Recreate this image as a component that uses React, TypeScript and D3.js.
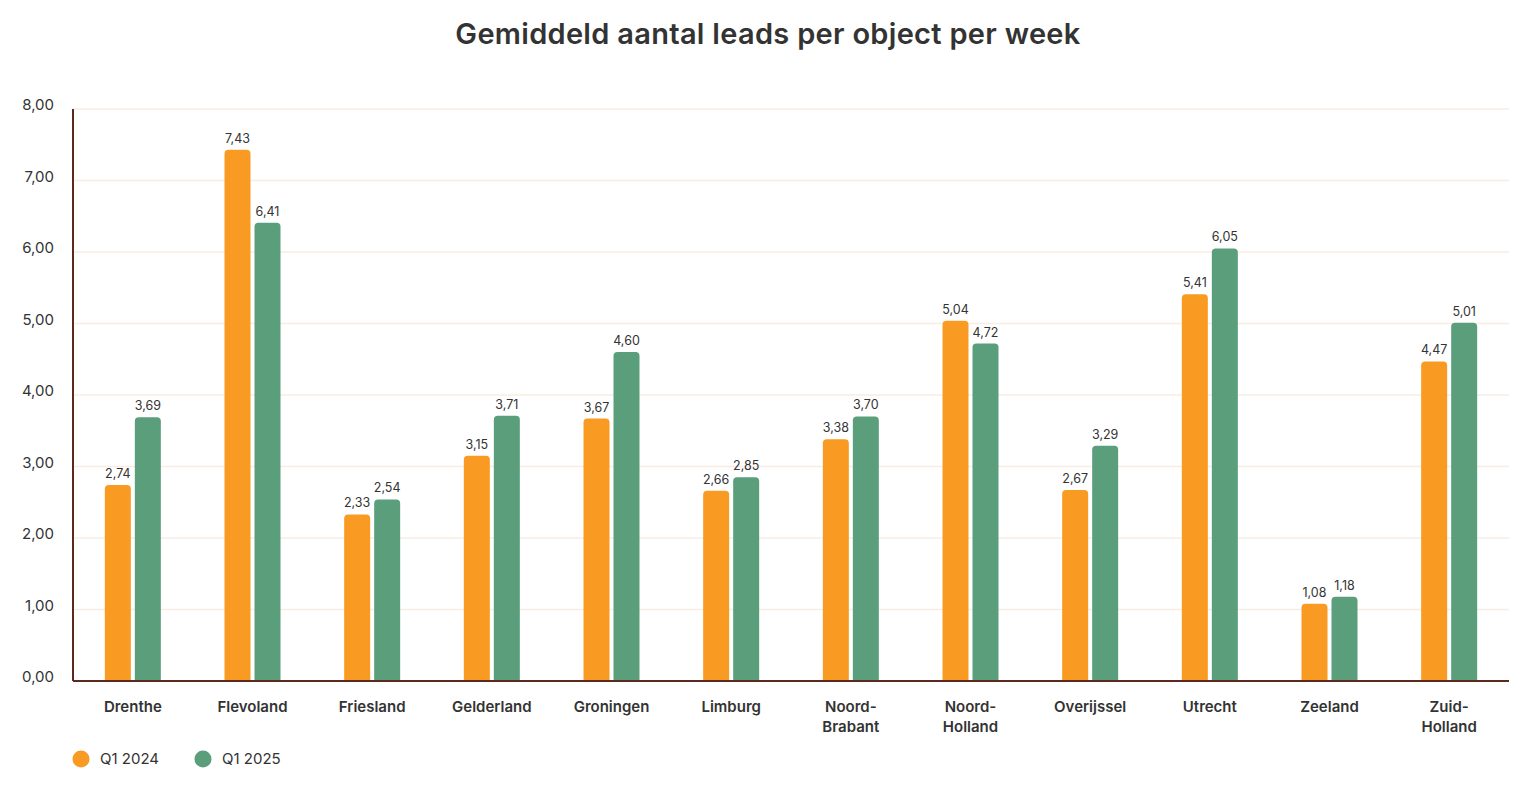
import { useEffect, useRef } from 'react';
import * as d3 from 'd3';

const provinces = [
  'Drenthe',
  'Flevoland',
  'Friesland',
  'Gelderland',
  'Groningen',
  'Limburg',
  'Noord-Brabant',
  'Noord-Holland',
  'Overijssel',
  'Utrecht',
  'Zeeland',
  'Zuid-Holland',
];
const q1_2024 = [2.74, 7.43, 2.33, 3.15, 3.67, 2.66, 3.38, 5.04, 2.67, 5.41, 1.08, 4.47];
const q1_2025 = [3.69, 6.41, 2.54, 3.71, 4.6, 2.85, 3.7, 4.72, 3.29, 6.05, 1.18, 5.01];
const seriesNames = ['Q1 2024', 'Q1 2025'];
const yTicks = [0, 1, 2, 3, 4, 5, 6, 7, 8];

const colors = ['#f99b22', '#5a9e7b'];
const font = 'Inter, "Open Sans", sans-serif';

const fmt = (v: number) => v.toFixed(2).replace('.', ',');

export default function App() {
  const svgRef = useRef<SVGSVGElement>(null);

  useEffect(() => {
    if (!svgRef.current) return;
    const W = 1536;
    const H = 796;
    const margin = { top: 109, right: 27, bottom: 115, left: 73 };
    const width = W - margin.left - margin.right;
    const height = H - margin.top - margin.bottom;

    const root = d3.select(svgRef.current);
    root.selectAll('*').remove();
    root.attr('viewBox', `0 0 ${W} ${H}`).attr('width', W).attr('height', H);

    root
      .append('text')
      .attr('x', W / 2)
      .attr('y', 44)
      .attr('text-anchor', 'middle')
      .attr('font-family', font)
      .attr('font-size', 29)
      .attr('font-weight', 600)
      .attr('letter-spacing', 0.3)
      .attr('fill', '#333')
      .text('Gemiddeld aantal leads per object per week');

    const svg = root.append('g').attr('transform', `translate(${margin.left},${margin.top})`);

    const x0 = d3.scaleBand().domain(provinces).range([0, width]);
    const y = d3.scaleLinear().domain([0, 8]).range([height, 0]);
    const barW = 26;
    const gap = 4;

    // grid
    svg
      .append('g')
      .selectAll('line')
      .data(yTicks.filter((t) => t > 0))
      .enter()
      .append('line')
      .attr('x1', 0)
      .attr('x2', width)
      .attr('y1', (d) => y(d))
      .attr('y2', (d) => y(d))
      .attr('stroke', '#f8ece3')
      .attr('stroke-width', 1.5);

    // y tick labels
    svg
      .append('g')
      .selectAll('text')
      .data(yTicks)
      .enter()
      .append('text')
      .attr('x', -19)
      .attr('y', (d) => y(d) + 1)
      .attr('text-anchor', 'end')
      .attr('font-family', font)
      .attr('font-size', 15)
      .attr('fill', '#333')
      .text((d) => fmt(d));

    const series = [q1_2024, q1_2025];
    const barPath = (x: number, top: number, w: number, r: number) => {
      const b = height;
      const rr = Math.min(r, (b - top) / 2);
      return `M${x},${b}V${top + rr}Q${x},${top} ${x + rr},${top}H${x + w - rr}Q${x + w},${top} ${x + w},${top + rr}V${b}Z`;
    };

    series.forEach((vals, si) => {
      const g = svg.append('g');
      const bx = (i: number) =>
        x0(provinces[i])! + x0.bandwidth() / 2 + (si === 0 ? -gap / 2 - barW : gap / 2);
      g.selectAll('path')
        .data(vals)
        .enter()
        .append('path')
        .attr('d', (d, i) => barPath(bx(i), y(d), barW, 4))
        .attr('fill', colors[si]);
      g.selectAll('text')
        .data(vals)
        .enter()
        .append('text')
        .attr('x', (d, i) => bx(i) + barW / 2)
        .attr('y', (d) => y(d) - 7)
        .attr('text-anchor', 'middle')
        .attr('font-family', font)
        .attr('font-size', 12.5)
        .attr('fill', '#333')
        .text((d) => fmt(d));
    });

    // axes lines
    svg
      .append('line')
      .attr('x1', 0)
      .attr('x2', 0)
      .attr('y1', 0)
      .attr('y2', height)
      .attr('stroke', '#5b2a1c')
      .attr('stroke-width', 2);
    svg
      .append('line')
      .attr('x1', 0)
      .attr('x2', width)
      .attr('y1', height)
      .attr('y2', height)
      .attr('stroke', '#5b2a1c')
      .attr('stroke-width', 2);

    // x labels
    const xl = svg
      .append('g')
      .selectAll('text')
      .data(provinces)
      .enter()
      .append('text')
      .attr('x', (d) => x0(d)! + x0.bandwidth() / 2)
      .attr('y', height + 31)
      .attr('text-anchor', 'middle')
      .attr('font-family', font)
      .attr('font-size', 15)
      .attr('font-weight', 600)
      .attr('fill', '#333');
    xl.each(function (d) {
      const parts = d.includes('-') ? [d.split('-')[0] + '-', d.split('-')[1]] : [d];
      const t = d3.select(this);
      parts.forEach((p, i) => {
        t.append('tspan')
          .attr('x', x0(d)! + x0.bandwidth() / 2)
          .attr('dy', i === 0 ? 0 : 20)
          .text(p);
      });
    });

    // legend
    const legend = root.append('g').attr('transform', `translate(81,759)`);
    seriesNames.forEach((name, i) => {
      const lg = legend.append('g').attr('transform', `translate(${i * 122},0)`);
      lg.append('circle').attr('r', 8.5).attr('fill', colors[i]);
      lg.append('text')
        .attr('x', 19)
        .attr('y', 5)
        .attr('font-family', font)
        .attr('font-size', 15)
        .attr('fill', '#333')
        .text(name);
    });
  }, []);

  return <svg ref={svgRef} style={{ display: 'block', position: 'absolute', left: 0, top: 0 }} />;
}
